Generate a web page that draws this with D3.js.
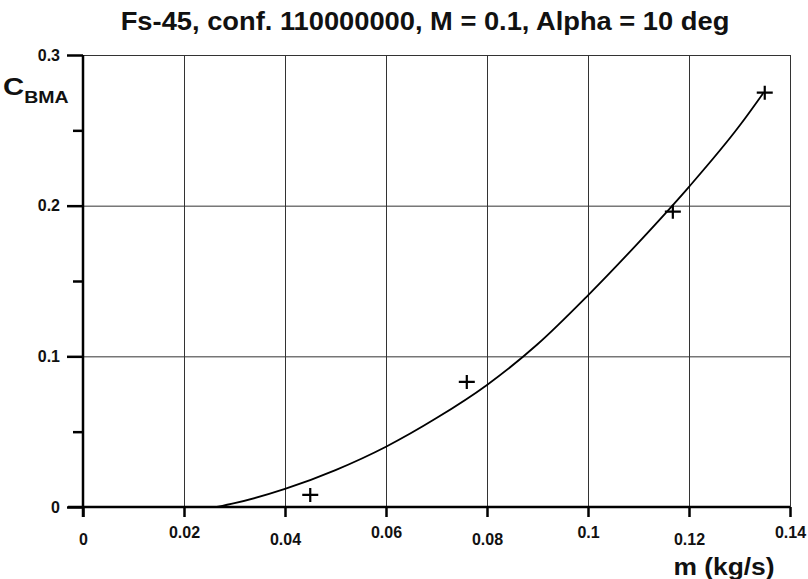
<!DOCTYPE html>
<html>
<head>
<meta charset="utf-8">
<script src="https://cdn.jsdelivr.net/npm/d3@7"></script>
<style>
  body { margin: 0; background: #fff; }
  svg { display: block; font-family: "Liberation Sans", Arial, sans-serif; font-weight: bold; }
  .grid line { stroke: #333; stroke-width: 1; }
  .grid path { display: none; }
  .axis path, .axis line { stroke: #000; stroke-width: 2.5; }
  .axis text { fill: #111; font-size: 16px; }
</style>
</head>
<body>
<script>
var titleText = 'Fs-45, conf. 110000000, M = 0.1, Alpha = 10 deg';
var xTicks = [0, 0.02, 0.04, 0.06, 0.08, 0.1, 0.12, 0.14];
var yTicks = [0, 0.1, 0.2, 0.3];
var yMinorTicks = [0.05, 0.15, 0.25];

// fitted curve (zero up to 0.0265, hidden by the axis)
var fitM = [0.0265, 0.03, 0.04, 0.05, 0.06, 0.07, 0.08, 0.09, 0.1, 0.11, 0.12, 0.13, 0.1347];
var fitC = [0, 0.0025, 0.012, 0.0245, 0.040, 0.059, 0.081, 0.108, 0.1405, 0.1755, 0.2125, 0.253, 0.2747];

// measured points (+)
var measM = [0.045, 0.076, 0.1168, 0.135];
var measC = [0.008, 0.083, 0.196, 0.275];

var svgWidth = 808, svgHeight = 579;
var margin = { top: 55, right: 18, bottom: 72, left: 83 };
var chartWidth = svgWidth - margin.left - margin.right,
    chartHeight = svgHeight - margin.top - margin.bottom;

var x = d3.scaleLinear().domain([0, 0.14]).range([0, chartWidth]);
var y = d3.scaleLinear().domain([0, 0.3]).range([chartHeight, 0]);

var svg = d3.select('body').append('svg')
    .attr('width', svgWidth)
    .attr('height', svgHeight);

svg.append('text')
    .attr('transform', 'translate(425,30) scale(1.05,1)')
    .attr('text-anchor', 'middle')
    .style('font-size', '26px')
    .style('fill', '#111')
    .text(titleText);

var g = svg.append('g')
    .attr('transform', 'translate(' + margin.left + ',' + margin.top + ')');

// grid
g.append('g')
    .attr('class', 'grid')
    .attr('transform', 'translate(0,' + chartHeight + ')')
    .call(d3.axisBottom(x).tickValues(xTicks).tickSize(-chartHeight).tickFormat(''));
g.append('g')
    .attr('class', 'grid')
    .call(d3.axisLeft(y).tickValues(yTicks).tickSize(-chartWidth).tickFormat(''));

// axes
var xAxis = g.append('g')
    .attr('class', 'axis')
    .attr('transform', 'translate(0,' + chartHeight + ')')
    .call(d3.axisBottom(x).tickValues(xTicks).tickSize(10).tickSizeOuter(0)
        .tickFormat(function (d) { return String(d); }));
xAxis.select('.domain').attr('d', 'M-15,0H' + chartWidth);
xAxis.selectAll('text')
    .attr('dy', null)
    .attr('y', function (d, i) { return i % 2 ? 31 : 38; });

var yAxis = g.append('g')
    .attr('class', 'axis')
    .call(d3.axisLeft(y).tickValues(yTicks).tickSize(16).tickSizeOuter(0)
        .tickPadding(7)
        .tickFormat(function (d) { return String(d); }));
yAxis.select('.domain').attr('d', 'M0,0V' + (chartHeight + 10));

g.append('g')
    .attr('class', 'axis')
    .call(d3.axisLeft(y).tickValues(yMinorTicks).tickSize(10).tickFormat(''))
    .select('.domain').remove();

// curve
var fitData = fitM.map(function (m, i) { return { m: m, c: fitC[i] }; });
var line = d3.line()
    .curve(d3.curveMonotoneX)
    .x(function (d) { return x(d.m); })
    .y(function (d) { return y(d.c); });
g.append('path')
    .datum(fitData)
    .attr('d', line)
    .attr('fill', 'none')
    .attr('stroke', '#000')
    .attr('stroke-width', 1.8);

// markers
var measData = measM.map(function (m, i) { return { m: m, c: measC[i] }; });
g.selectAll('.marker')
    .data(measData)
    .enter().append('path')
    .attr('class', 'marker')
    .attr('d', function (d) {
        var px = x(d.m), py = y(d.c);
        return 'M' + (px - 8) + ',' + py + 'H' + (px + 8) + 'M' + px + ',' + (py - 7) + 'V' + (py + 7);
    })
    .attr('stroke', '#000')
    .attr('stroke-width', 2.2);

// axis titles
var yLabel = svg.append('text')
    .attr('transform', 'translate(3,95) scale(1.22,1)')
    .style('fill', '#111');
yLabel.append('tspan').style('font-size', '24px').text('C');
yLabel.append('tspan').attr('dy', 8).style('font-size', '16px').text('BMA');

svg.append('text')
    .attr('transform', 'translate(724,575) scale(1.1,1)')
    .attr('text-anchor', 'middle')
    .style('font-size', '24px')
    .style('fill', '#111')
    .text('m (kg/s)');
</script>
</body>
</html>
